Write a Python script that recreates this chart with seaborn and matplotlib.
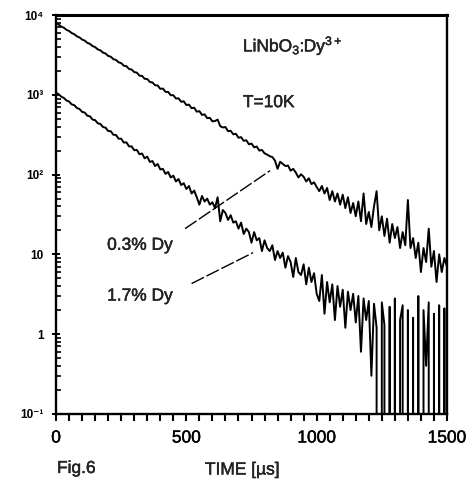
import numpy as np
import pandas as pd
import matplotlib
matplotlib.use("Agg")
import matplotlib.pyplot as plt
import matplotlib.patheffects as pe
from matplotlib.ticker import FixedLocator, LogLocator, NullFormatter
import seaborn as sns

# Time axis (µs), one channel every 10 µs
time_us = list(range(0, 1501, 10))

# Luminescence decay counts, 0.3 % Dy sample
counts_03 = [
    7900, 7620, 7180, 6950, 6540, 6330, 5960, 5760, 5420, 5250,
    4940, 4790, 4490, 4360, 4090, 3970, 3720, 3620, 3390, 3300,
    3080, 3010, 2800, 2740, 2560, 2500, 2320, 2290, 2110, 2080,
    1930, 1900, 1740, 1730, 1590, 1580, 1450, 1430, 1320, 1310,
    1190, 1200, 1090, 1090, 990, 990, 900, 905, 820, 830,
    745, 755, 680, 690, 615, 625, 560, 570, 510, 515,
    465, 470, 490, 405, 390, 395, 350, 355, 320, 325,
    290, 295, 265, 270, 240, 245, 220, 225, 200, 204,
    185, 178, 170, 166, 150, 118, 145, 136, 128, 130,
    112, 118, 106, 92, 101, 94, 82, 90, 76, 80,
    70, 62, 72, 58, 68, 48, 62, 46, 58, 42,
    56, 38, 52, 33, 44, 30, 46, 26, 58, 24,
    34, 22, 40, 62, 20, 30, 17, 28, 14, 24,
    16, 22, 12, 19, 13, 48, 12, 16, 9, 14,
    6, 12, 8, 21, 7, 11, 4.5, 10, 6, 9,
    7,
]

# Luminescence decay counts, 1.7 % Dy sample
counts_17 = [
    1060, 1020, 950, 915, 850, 825, 760, 742, 685, 665,
    612, 600, 548, 538, 490, 482, 440, 432, 395, 388,
    352, 350, 316, 314, 282, 282, 252, 254, 226, 226,
    202, 204, 180, 184, 160, 168, 144, 148, 128, 136,
    116, 118, 102, 108, 92, 97, 82, 88, 74, 78,
    66, 72, 58, 63, 52, 42, 54, 46, 50, 42,
    45, 38, 52, 26, 36, 33, 27, 31, 25, 26,
    21, 25, 18, 21, 19, 14, 19, 15, 16, 11,
    15, 12, 11, 13, 8.5, 11, 9, 10.5, 6.8, 9.5,
    8, 5.2, 9, 6, 5.5, 7.5, 4.2, 6.8, 4.5, 5.8,
    3.2, 2.6, 5.5, 1.8, 4.5, 2.5, 4.2, 1.5, 4, 2.2,
    3.6, 1.2, 3.4, 2, 3.2, 1.4, 3, 0.6, 2.8, 1.5,
    2.6, 0.3, 2.4, 1.2, 0, 2.5, 1.3, 0, 2.2, 0,
    2.8, 0, 1.5, 2.3, 0, 2, 0, 1.6, 0, 3,
    0, 2, 0.4, 2.5, 0, 1.8, 0, 2.3, 0, 2.1,
    0,
]

x_ticks = [0, 500, 1000, 1500]
x_tick_labels = ["0", "500", "1000", "1500"]
y_ticks = [1e-1, 1, 10, 1e2, 1e3, 1e4]
y_tick_labels = ["10⁻¹", "1", "10", "10²", "10³", "10⁴"]

sample_labels = ["0.3% Dy", "1.7% Dy"]

df = pd.DataFrame({
    "time": time_us * 2,
    "counts": counts_03 + counts_17,
    "sample": [sample_labels[0]] * len(time_us) + [sample_labels[1]] * len(time_us),
})

sns.set_style("ticks")
plt.rcParams["font.family"] = ["Liberation Sans", "DejaVu Sans"]
plt.rcParams["mathtext.default"] = "regular"

# slightly heavier strokes for all lettering
heavy = [pe.withStroke(linewidth=0.3, foreground="black")]

fig = plt.figure(figsize=(4.75, 4.88), dpi=100)
ax = fig.add_axes([0.118, 0.152, 0.823, 0.817])

sns.lineplot(data=df, x="time", y="counts", units="sample", estimator=None,
             color="black", linewidth=1.4, ax=ax, legend=False, sort=False)

ax.set_yscale("log")
ax.set_xlim(0, 1500)
ax.set_ylim(1e-1, 1e4)

for side in ["left", "right", "top", "bottom"]:
    ax.spines[side].set_visible(True)
    ax.spines[side].set_color("black")
ax.spines["left"].set_linewidth(1.7)
ax.spines["bottom"].set_linewidth(1.7)
ax.spines["top"].set_linewidth(2.2)
ax.spines["right"].set_linewidth(1.7)

ax.xaxis.set_major_locator(FixedLocator(x_ticks))
ax.set_xticklabels(x_tick_labels, fontsize=12.5,
                   family=["Liberation Sans Narrow", "Liberation Sans"])
ax.xaxis.set_minor_locator(FixedLocator(list(range(0, 1501, 50))))
ax.tick_params(axis="x", which="both", direction="out", length=5, width=1.5,
               colors="black", pad=7)

ax.yaxis.set_major_locator(FixedLocator(y_ticks))
ax.set_yticklabels(y_tick_labels, fontsize=8.5, fontweight="bold")
ax.yaxis.set_minor_locator(LogLocator(base=10, subs=np.arange(2, 10), numticks=20))
ax.yaxis.set_minor_formatter(NullFormatter())
ax.tick_params(axis="y", which="major", direction="inout", length=6, width=1.4,
               colors="black", pad=6)
ax.tick_params(axis="y", which="minor", direction="in", length=3.5, width=1.2,
               colors="black")

for lbl in ax.get_xticklabels():
    lbl.set_path_effects(heavy)

ax.set_xlabel("")
ax.set_ylabel("")

# Sample annotations
ax.text(717, 4150, r"LiNbO$_3$:Dy$^{3+}$", fontsize=12.5, va="center", ha="left",
        path_effects=heavy)
ax.text(717, 800, "T=10K", fontsize=12.5, va="center", ha="left", path_effects=heavy)
ax.text(196, 13, sample_labels[0], fontsize=12.5, va="center", ha="left",
        path_effects=heavy)
ax.text(196, 3.0, sample_labels[1], fontsize=12.5, va="center", ha="left",
        path_effects=heavy)

ax.plot([495, 821], [21, 112], color="black", linewidth=1.0, dashes=(10, 2))
ax.plot([520, 756], [4.3, 10.5], color="black", linewidth=1.0, dashes=(10, 2))

fig.text(0.120, 0.040, "Fig.6", fontsize=12.5, ha="left", va="center",
         path_effects=heavy)
fig.text(0.51, 0.037, "TIME [µs]", fontsize=12.5, ha="center", va="center",
         path_effects=heavy)

fig.savefig("out.png", dpi=100, facecolor="white")
